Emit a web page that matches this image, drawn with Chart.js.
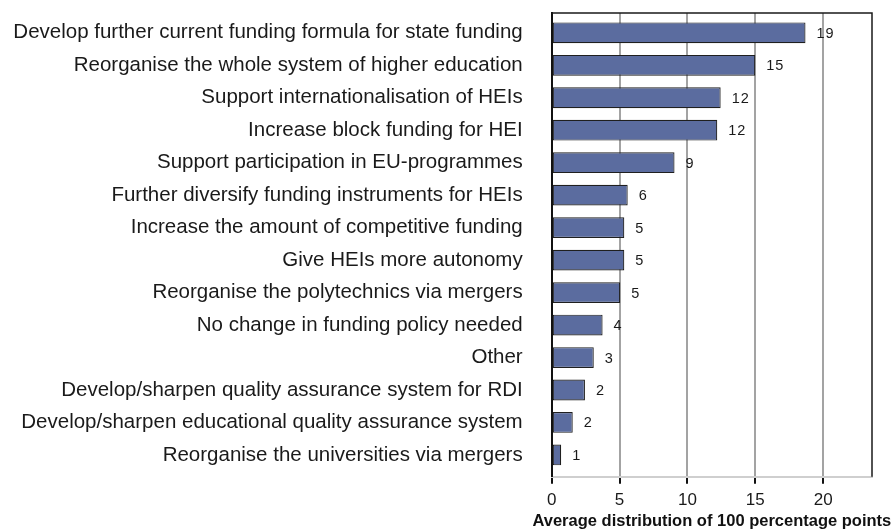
<!DOCTYPE html>
<html>
<head>
<meta charset="utf-8">
<script src="https://cdn.jsdelivr.net/npm/chart.js@4.4.1/dist/chart.umd.min.js"></script>
<style>
  html, body { margin: 0; padding: 0; background: #fff; }
</style>
</head>
<body>
<canvas id="priorities_chart" width="891" height="531"></canvas>
<script>
// categories top to bottom
const categories = [
    'Develop further current funding formula for state funding',
    'Reorganise the whole system of higher education',
    'Support internationalisation of HEIs',
    'Increase block funding for HEI',
    'Support participation in EU-programmes',
    'Further diversify funding instruments for HEIs',
    'Increase the amount of competitive funding',
    'Give HEIs more autonomy',
    'Reorganise the polytechnics via mergers',
    'No change in funding policy needed',
    'Other',
    'Develop/sharpen quality assurance system for RDI',
    'Develop/sharpen educational quality assurance system',
    'Reorganise the universities via mergers',
];

// average distribution
const values = [18.7, 15.0, 12.45, 12.2, 9.05, 5.6, 5.35, 5.35, 5.05, 3.75, 3.1, 2.45, 1.55, 0.7];

const xTicks = [0, 5, 10, 15, 20];
const axisTitle = 'Average distribution of 100 percentage points';

const FONT = "'Liberation Sans', Arial, Helvetica, sans-serif";

// value labels at the end of each bar
const valueLabels = {
    id: 'valueLabels',
    afterDatasetsDraw(chart) {
        const ctx = chart.ctx;
        const meta = chart.getDatasetMeta(0);
        ctx.save();
        ctx.font = '14.5px ' + FONT;
        ctx.fillStyle = '#1a1a1a';
        ctx.textAlign = 'left';
        ctx.textBaseline = 'middle';
        if ('letterSpacing' in ctx) ctx.letterSpacing = '1px';
        meta.data.forEach((bar, i) => {
            ctx.fillText(String(Math.round(values[i])), bar.x + 11, bar.y + 1);
        });
        ctx.restore();
    }
};

// dark top and right frame, plus the x axis title (wider than the plot)
const frame = {
    id: 'frame',
    afterDraw(chart) {
        const a = chart.chartArea;
        const ctx = chart.ctx;
        ctx.save();
        ctx.strokeStyle = '#1a1a1a';
        ctx.lineWidth = 1.5;
        ctx.beginPath();
        ctx.moveTo(a.left, a.top);
        ctx.lineTo(a.right, a.top);
        ctx.lineTo(a.right, a.bottom);
        ctx.stroke();

        ctx.font = 'bold 16.5px ' + FONT;
        ctx.fillStyle = '#111';
        ctx.textAlign = 'center';
        ctx.textBaseline = 'middle';
        ctx.fillText(axisTitle, (a.left + a.right) / 2, 521);
        ctx.restore();
    }
};

const ctx = document.getElementById('priorities_chart').getContext('2d');

const config = {
    type: 'bar',
    data: {
        datasets: [{
            data: values.map((v, i) => ({ x: v, y: i })),
            backgroundColor: '#5b6c9f',
            borderColor: '#1f1f1f',
            borderWidth: 1.2,
            borderSkipped: false,
            barPercentage: 0.64,
            categoryPercentage: 1,
        }],
    },
    options: {
        indexAxis: 'y',
        responsive: false,
        animation: false,
        layout: {
            padding: { left: 0, right: 19, top: 13, bottom: 0 },
        },
        plugins: {
            legend: { display: false },
            tooltip: { enabled: false },
        },
        scales: {
            x: {
                type: 'linear',
                min: 0,
                max: 23.6,
                afterBuildTicks(scale) {
                    scale.ticks = xTicks.map(v => ({ value: v }));
                },
                afterFit(scale) {
                    scale.height = 54.3;
                    scale.paddingLeft = 0;
                    scale.paddingRight = 0;
                },
                ticks: {
                    font: { size: 17, family: FONT },
                    color: '#1a1a1a',
                    padding: 6,
                    maxRotation: 0,
                },
                grid: {
                    color: (c) => (c.tick && c.tick.value === 0 ? 'rgba(0,0,0,0)' : '#a3a3a3'),
                    lineWidth: 2,
                    drawTicks: true,
                    tickLength: 7,
                    tickColor: '#111',
                    tickWidth: 2,
                },
                border: {
                    display: true,
                    color: '#cfcfcf',
                    width: 2,
                },
            },
            y: {
                type: 'linear',
                reverse: true,
                offset: false,
                min: -0.61,
                max: 13.67,
                afterBuildTicks(scale) {
                    scale.ticks = categories.map((c, i) => ({ value: i }));
                },
                afterFit(scale) {
                    scale.width = 551.7;
                    scale.paddingTop = 0;
                    scale.paddingBottom = 0;
                },
                ticks: {
                    callback: (v) => categories[v],
                    font: { size: 20.5, family: FONT },
                    color: '#1a1a1a',
                    padding: 29,
                    autoSkip: false,
                },
                grid: {
                    display: false,
                    drawTicks: false,
                },
                border: {
                    display: true,
                    color: '#111',
                    width: 2,
                },
            },
        },
    },
    plugins: [valueLabels, frame],
};

new Chart(ctx, config);
</script>
</body>
</html>
